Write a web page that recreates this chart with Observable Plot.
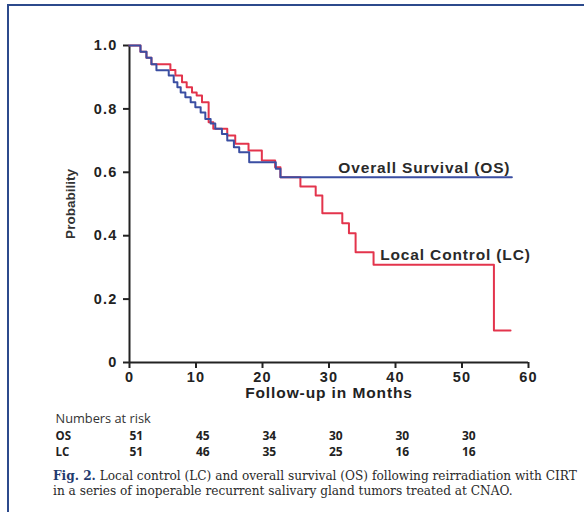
<!DOCTYPE html>
<html><head><meta charset="utf-8">
<script src="https://cdn.jsdelivr.net/npm/d3@7"></script>
<script src="https://cdn.jsdelivr.net/npm/@observablehq/plot@0.6"></script>
<style>
html,body{margin:0;padding:0;background:#fff;}
#page{position:relative;width:584px;height:512px;overflow:hidden;background:#fff;}
#frame{position:absolute;left:7px;top:4px;width:620px;height:620px;border-left:2px solid #2c4a8c;border-top:2px solid #2c4a8c;}
#chart{position:absolute;left:0;top:0;}
#caption{position:absolute;left:53px;top:469px;font-family:"DejaVu Serif",serif;font-size:12.15px;line-height:15px;color:#2a2a2a;white-space:nowrap;}
</style></head><body>
<div id="page"><div id="frame"></div><div id="chart"></div><div id="caption"></div></div>
<script>
// Kaplan-Meier step points
const osMonths = [0,1.65,2.55,3.3,4.05,5.9,6.65,7.2,7.7,8.4,9.2,9.9,10.7,11.4,12.2,12.9,13.9,14.7,15.7,16.5,18.0,22.0,22.7,57.5];
const osProb   = [1,0.98,0.961,0.941,0.922,0.905,0.884,0.868,0.852,0.837,0.821,0.805,0.789,0.768,0.754,0.737,0.721,0.700,0.679,0.663,0.632,0.611,0.584,0.584];

const lcMonths = [0,1.65,2.55,3.3,6.15,6.9,7.9,8.6,9.4,10.1,10.9,11.9,12.6,14.7,15.9,17.9,19.9,21.9,22.7,25.7,28.0,29.0,32.0,33.0,34.0,36.7,54.8,57.3];
const lcProb   = [1,0.98,0.961,0.941,0.923,0.905,0.884,0.868,0.852,0.842,0.821,0.758,0.737,0.716,0.690,0.669,0.637,0.616,0.584,0.555,0.527,0.471,0.439,0.408,0.348,0.308,0.101,0.101];

const xTicks = [0,10,20,30,40,50,60];
const yTicks = [0,0.2,0.4,0.6,0.8,1.0];
const yTickLabels = ["0","0.2","0.4","0.6","0.8","1.0"];

const riskMonths = [0,10,20,30,40,50];
const osRisk = [51,45,34,30,30,30];
const lcRisk = [51,46,35,25,16,16];

const seriesNames = ["Overall Survival (OS)","Local Control (LC)"];
const rowNames = ["OS","LC"];
const riskTitle = "Numbers at risk";
const xLabel = "Follow-up in Months";
const yLabel = "Probability";
const captionBold = "Fig. 2.";
const captionLine1 = " Local control (LC) and overall survival (OS) following reirradiation with CIRT";
const captionLine2 = "in a series of inoperable recurrent salivary gland tumors treated at CNAO.";

const os = osMonths.map((t,i)=>({t, p: osProb[i]}));
const lc = lcMonths.map((t,i)=>({t, p: lcProb[i]}));
const osR = riskMonths.map((t,i)=>({t, n: osRisk[i]}));
const lcR = riskMonths.map((t,i)=>({t, n: lcRisk[i]}));
const labels = [
  {name: seriesNames[0], t: 31.4, p: 0.613},
  {name: seriesNames[1], t: 37.7, p: 0.34}
];

const blue = "#3a4ea2", red = "#e3344c", ink = "#222";
const sans = "Liberation Sans, Arial, sans-serif";
const tableFont = "Open Sans, sans-serif";

const chart = Plot.plot({
  width: 584, height: 466,
  marginLeft: 129, marginRight: 56, marginTop: 45, marginBottom: 104,
  x: {domain: [0, 60]},
  y: {domain: [0, 1]},
  style: {fontFamily: sans, background: "transparent", color: ink, overflow: "visible"},
  marks: [
    Plot.axisX({ticks: xTicks, tickSize: 6, tickPadding: 3, fontSize: 14.5, fontWeight: "bold", strokeWidth: 2, stroke: ink, label: null}),
    Plot.axisY({ticks: yTicks, tickSize: 6, tickPadding: 6, fontSize: 14.5, fontWeight: "bold", strokeWidth: 2, stroke: ink, label: null,
      tickFormat: d => yTickLabels[yTicks.indexOf(d)] ?? d}),
    Plot.ruleY([0], {x1: 0, x2: 60, stroke: ink, strokeWidth: 2}),
    Plot.ruleX([0], {y1: 0, y2: 1, stroke: ink, strokeWidth: 2}),
    Plot.line(lc, {x: "t", y: "p", curve: "step-after", stroke: red, strokeWidth: 2}),
    Plot.line(os, {x: "t", y: "p", curve: "step-after", stroke: blue, strokeWidth: 2}),
    Plot.text(labels, {x: "t", y: "p", text: "name", textAnchor: "start", fontSize: 15.5, fontWeight: "bold", fill: "#2a2a2a"}),
    Plot.text([xLabel], {frameAnchor: "bottom", dy: 35, fontSize: 15.5, fontWeight: "bold", fill: ink}),
    Plot.text([yLabel], {frameAnchor: "left", dx: -59, rotate: -90, textAnchor: "middle", fontSize: 13.5, fontWeight: "bold", fill: "#333"}),
    Plot.text([riskTitle], {frameAnchor: "bottom-left", dx: -74, dy: 60.5, textAnchor: "start", fontFamily: tableFont, fontSize: 12.8, fill: "#333"}),
    Plot.text([rowNames[0]], {frameAnchor: "bottom-left", dx: -74, dy: 77, textAnchor: "start", fontFamily: tableFont, fontSize: 11.5, fontWeight: "bold", fill: "#222"}),
    Plot.text([rowNames[1]], {frameAnchor: "bottom-left", dx: -74, dy: 93, textAnchor: "start", fontFamily: tableFont, fontSize: 11.5, fontWeight: "bold", fill: "#222"}),
    Plot.text(osR, {x: "t", text: "n", frameAnchor: "bottom", dy: 77, textAnchor: "start", fontFamily: tableFont, fontSize: 12, fontWeight: "bold", fill: "#222"}),
    Plot.text(lcR, {x: "t", text: "n", frameAnchor: "bottom", dy: 93, textAnchor: "start", fontFamily: tableFont, fontSize: 12, fontWeight: "bold", fill: "#222"})
  ]
});
document.getElementById("chart").appendChild(chart);

// widen the stretched-looking Helvetica text of the original figure
chart.querySelectorAll("text").forEach(el => {
  const s = el.textContent;
  if (seriesNames.includes(s)) el.style.letterSpacing = "0.85px";
  else if (s === xLabel) el.style.letterSpacing = "0.9px";
});
chart.querySelectorAll('g[aria-label*="tick label"] text').forEach(el => { el.style.letterSpacing = "1.2px"; });

const cap = document.getElementById("caption");
const b = document.createElement("b"); b.textContent = captionBold; b.style.color = "#1f3a6e";
cap.appendChild(b);
cap.appendChild(document.createTextNode(captionLine1));
cap.appendChild(document.createElement("br"));
cap.appendChild(document.createTextNode(captionLine2));
</script>
</body></html>
